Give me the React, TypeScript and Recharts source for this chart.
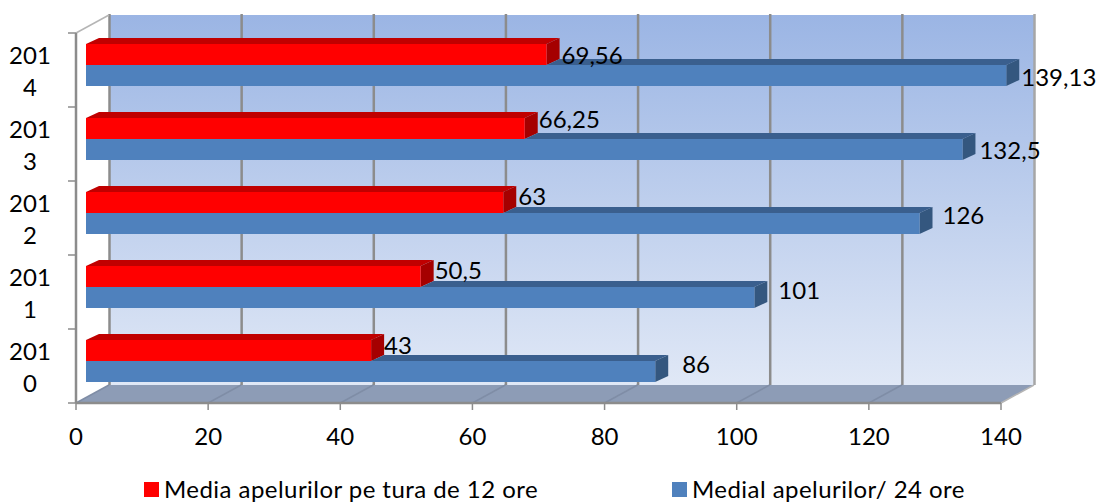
import { BarChart, Bar, XAxis, YAxis, Legend, LabelList, Customized, usePlotArea } from 'recharts';

const years = ['2014', '2013', '2012', '2011', '2010'];
const media12 = [69.56, 66.25, 63, 50.5, 43];
const media24 = [139.13, 132.5, 126, 101, 86];
const xTicks = [0, 20, 40, 60, 80, 100, 120, 140];

const NAME_12 = 'Media apelurilor pe tura de 12 ore';
const NAME_24 = 'Medial apelurilor/ 24 ore';
const FONT = 'Lato, sans-serif';
const FONT_SIZE = 24;

// 3D look: back wall offset, bar depth
const WALL_DX = 33;
const WALL_DY = 18;
const BAR_LEFT = 10;
const BAR_RIGHT = 11;
const BAR_UP = 5;
const DEPTH_X = 13;
const DEPTH_Y = 6;

// hand placed labels in the original, [dx from bar end, dy from bar centre]
const labelOffsets12 = [[15, 9], [14, -1], [15, 2], [14, 2], [13, 3]];
const labelOffsets24 = [[15, 10], [17, 9], [23, 0], [24, 1], [27, 1]];

const data = years.map((year, i) => ({ year, media12: media12[i], media24: media24[i] }));

const poly = (pts: number[][], fill: string) => (
  <polygon points={pts.map((p) => p.join(',')).join(' ')} fill={fill} />
);

const Walls = () => {
  const plot = usePlotArea();
  if (!plot) return null;
  const { x, y, width, height } = plot;
  const left = x;
  const right = x + width;
  const top = y;
  const bottom = y + height;
  const max = xTicks[xTicks.length - 1];
  const band = height / years.length;
  return (
    <g>
      <defs>
        <linearGradient id="wall" x1="0" y1="0" x2="0" y2="1">
          <stop offset="0%" stopColor="#9bb5e4" />
          <stop offset="100%" stopColor="#e0e8f6" />
        </linearGradient>
      </defs>
      <rect x={left + WALL_DX} y={top - WALL_DY} width={width} height={height} fill="url(#wall)" />
      {poly(
        [
          [left, bottom],
          [right, bottom],
          [right + WALL_DX, bottom - WALL_DY],
          [left + WALL_DX, bottom - WALL_DY],
        ],
        '#8d9cb6',
      )}
      {xTicks.map((t) => {
        const px = left + (t / max) * width;
        return (
          <g key={t}>
            <line x1={px + WALL_DX + 0.5} x2={px + WALL_DX + 0.5} y1={top - WALL_DY - 1} y2={bottom - WALL_DY} stroke={t === max ? '#a6a6a6' : '#8c8c8c'} strokeWidth={2.5} />
            <line x1={px} x2={px + WALL_DX} y1={bottom} y2={bottom - WALL_DY} stroke={t === max ? '#b5b5b5' : '#7f8da6'} strokeWidth={1.5} />
          </g>
        );
      })}
      <line x1={left} x2={left + WALL_DX} y1={top} y2={top - WALL_DY} stroke="#b5b5b5" strokeWidth={1.5} />
      {years.concat('').map((_, i) => (
        <line key={i} x1={left - 8} x2={left} y1={top + i * band} y2={top + i * band} stroke="#8c8c8c" strokeWidth={1.5} />
      ))}
    </g>
  );
};

const Bar3D = ({ x, y, width, height, fill, topFill, sideFill, startAt }: any) => {
  const x0 = x + BAR_LEFT;
  const x1 = x + width + BAR_RIGHT;
  const y0 = y - BAR_UP;
  const y1 = y0 + height;
  const topStart = startAt !== undefined ? startAt : x0;
  return (
    <g>
      {poly(
        [
          [topStart, y0],
          [topStart + DEPTH_X, y0 - DEPTH_Y],
          [x1 + DEPTH_X, y0 - DEPTH_Y],
          [x1, y0],
        ],
        topFill,
      )}
      {poly(
        [
          [x1, y0],
          [x1 + DEPTH_X, y0 - DEPTH_Y],
          [x1 + DEPTH_X, y1 - DEPTH_Y],
          [x1, y1],
        ],
        sideFill,
      )}
      <rect x={x0} y={y0} width={x1 - x0} height={height} fill={fill} />
    </g>
  );
};

const RedBar = (props: any) => <Bar3D {...props} fill="#ff0000" topFill="#c00000" sideFill="#a50000" />;

// the blue top face only shows past the end of the red bar in front of it
const BlueBar = (props: any) => {
  const { x, width, payload } = props;
  const startAt = x + (width * payload.media12) / payload.media24 + BAR_RIGHT;
  return <Bar3D {...props} fill="#4f81bd" topFill="#3a5f8e" sideFill="#34577f" startAt={startAt} />;
};

const makeLabel = (offsets: number[][]) => (props: any) => {
  const { x, y, width, height, value, index } = props;
  const [dx, dy] = offsets[index];
  return (
    <text x={x + width + BAR_RIGHT + dx} y={y - BAR_UP + height / 2 + dy} fontFamily={FONT} fontSize={FONT_SIZE} fill="#000" textAnchor="start">
      {String(value).replace('.', ',')}
    </text>
  );
};

const YearTick = ({ x, y, payload }: any) => (
  <g>
    <text x={x} y={y - 6} textAnchor="middle" fontFamily={FONT} fontSize={FONT_SIZE} fill="#000">
      {payload.value.slice(0, 3)}
    </text>
    <text x={x} y={y + 26} textAnchor="middle" fontFamily={FONT} fontSize={FONT_SIZE} fill="#000">
      {payload.value.slice(3)}
    </text>
  </g>
);

const LegendContent = () => (
  <div style={{ position: 'relative', width: 1097, height: 30, fontFamily: FONT, fontSize: FONT_SIZE, letterSpacing: 0.45, color: '#000' }}>
    <span style={{ position: 'absolute', left: 144, top: 8, width: 15, height: 15, background: '#ff0000' }} />
    <span style={{ position: 'absolute', left: 164, top: 0, lineHeight: '30px', whiteSpace: 'nowrap' }}>{NAME_12}</span>
    <span style={{ position: 'absolute', left: 672, top: 8, width: 15, height: 15, background: '#4f81bd' }} />
    <span style={{ position: 'absolute', left: 692, top: 0, lineHeight: '30px', whiteSpace: 'nowrap' }}>{NAME_24}</span>
  </div>
);

export default function App() {
  return (
    <div style={{ position: 'absolute', left: 0, top: 0, width: 1097, height: 502 }}>
      <BarChart
        width={1097}
        height={502}
        data={data}
        layout="vertical"
        margin={{ top: 33, right: 96, bottom: 39, left: 0 }}
        barSize={21}
        barGap={0}
        barCategoryGap={16}
      >
        <Customized component={<Walls />} />
        <XAxis
          type="number"
          domain={[0, 140]}
          ticks={xTicks}
          interval={0}
          stroke="#8c8c8c"
          axisLine={{ stroke: '#8c8c8c', strokeWidth: 2.5 }}
          tickLine={{ stroke: '#8c8c8c', strokeWidth: 1.5 }}
          tickSize={7}
          tickMargin={18}
          height={60}
          tick={{ fontFamily: FONT, fontSize: FONT_SIZE, fill: '#000' }}
        />
        <YAxis
          type="category"
          dataKey="year"
          width={76}
          axisLine={{ stroke: '#8c8c8c', strokeWidth: 2.5 }}
          tickLine={false}
          tickSize={0}
          tickMargin={46}
          tick={<YearTick />}
        />
        <Legend verticalAlign="middle" align="center" layout="horizontal" content={<LegendContent />} wrapperStyle={{ left: 0, top: 474, width: 1097 }} />
        <Bar dataKey="media12" name={NAME_12} fill="#ff0000" shape={<RedBar />} isAnimationActive={false}>
          <LabelList dataKey="media12" content={makeLabel(labelOffsets12)} />
        </Bar>
        <Bar dataKey="media24" name={NAME_24} fill="#4f81bd" shape={<BlueBar />} isAnimationActive={false}>
          <LabelList dataKey="media24" content={makeLabel(labelOffsets24)} />
        </Bar>
      </BarChart>
    </div>
  );
}
